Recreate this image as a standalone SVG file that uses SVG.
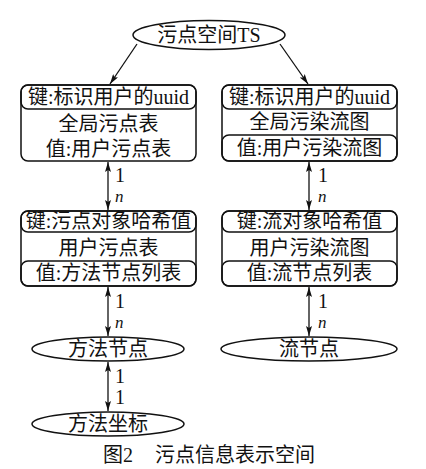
<svg xmlns="http://www.w3.org/2000/svg" width="426" height="469" viewBox="0 0 426 469">
<defs>
<marker id="ah" viewBox="0 0 10 6" refX="10" refY="3" markerWidth="10" markerHeight="6" markerUnits="userSpaceOnUse" orient="auto-start-reverse">
<path d="M0,0 L10,3 L0,6 L2,3 Z" fill="#111"/>
</marker>
<style>
.s{fill:none;stroke:#111;stroke-width:1.5}
.w{fill:#fff;stroke:#111;stroke-width:1.5}
.t{font-family:"Liberation Serif","Noto Sans CJK SC",serif;font-size:20px;fill:#111;text-anchor:middle}
.l{font-family:"Liberation Serif",serif;font-size:20px;fill:#111}
.n{font-family:"Liberation Serif",serif;font-size:17px;font-style:italic;fill:#111}
.c{stroke:#111;stroke-width:1.3;fill:none}
</style>
</defs>
<rect width="426" height="469" fill="#fff"/>
<g id="connectors">
<line class="c" x1="137" y1="44" x2="110" y2="84" marker-end="url(#ah)"/>
<line class="c" x1="280" y1="44" x2="308" y2="84" marker-end="url(#ah)"/>
<line class="c" x1="108" y1="162" x2="108" y2="210" marker-start="url(#ah)" marker-end="url(#ah)"/>
<line class="c" x1="309" y1="162" x2="309" y2="210" marker-start="url(#ah)" marker-end="url(#ah)"/>
<line class="c" x1="108" y1="287" x2="108" y2="336" marker-start="url(#ah)" marker-end="url(#ah)"/>
<line class="c" x1="309" y1="287" x2="309" y2="336" marker-start="url(#ah)" marker-end="url(#ah)"/>
<line class="c" x1="108" y1="362" x2="108" y2="411" marker-start="url(#ah)" marker-end="url(#ah)"/>
<text class="l" x="115" y="182">1</text>
<text class="n" x="115" y="202">n</text>
<text class="l" x="318" y="182">1</text>
<text class="n" x="318" y="202">n</text>
<text class="l" x="115" y="308">1</text>
<text class="n" x="115" y="328">n</text>
<text class="l" x="318" y="308">1</text>
<text class="n" x="318" y="328">n</text>
<text class="l" x="115" y="383">1</text>
<text class="l" x="115" y="404">1</text>
</g>
<g id="ts">
<ellipse class="w" cx="209" cy="35" rx="76" ry="14.5"/>
<text class="t" x="209" y="42">污点空间TS</text>
</g>
<g id="global-taint-table">
<rect class="w" x="21" y="85" width="175" height="76" rx="7"/>
<rect class="s" x="21" y="85" width="175" height="24" rx="7"/>
<text class="t" x="108.5" y="104">键:标识用户的uuid</text>
<text class="t" x="108.5" y="131">全局污点表</text>
<text class="t" x="108.5" y="156">值:用户污点表</text>
</g>
<g id="global-taint-flow">
<rect class="w" x="222" y="85" width="175" height="76" rx="7"/>
<rect class="s" x="222" y="85" width="175" height="24" rx="7"/>
<rect class="s" x="222" y="135" width="175" height="26" rx="7"/>
<text class="t" x="309.5" y="104">键:标识用户的uuid</text>
<text class="t" x="309.5" y="129">全局污染流图</text>
<text class="t" x="309.5" y="155">值:用户污染流图</text>
</g>
<g id="user-taint-table">
<rect class="w" x="21" y="211" width="175" height="75" rx="7"/>
<rect class="s" x="21" y="211" width="175" height="21" rx="7"/>
<rect class="s" x="21" y="261" width="175" height="25" rx="7"/>
<text class="t" x="108.5" y="228">键:污点对象哈希值</text>
<text class="t" x="108.5" y="255">用户污点表</text>
<text class="t" x="108.5" y="280">值:方法节点列表</text>
</g>
<g id="user-taint-flow">
<rect class="w" x="222" y="211" width="175" height="75" rx="7"/>
<rect class="s" x="222" y="211" width="175" height="21" rx="7"/>
<rect class="s" x="222" y="261" width="175" height="25" rx="7"/>
<text class="t" x="309.5" y="228">键:流对象哈希值</text>
<text class="t" x="309.5" y="255">用户污染流图</text>
<text class="t" x="309.5" y="280">值:流节点列表</text>
</g>
<g id="method-node">
<ellipse class="w" cx="108" cy="349" rx="76" ry="12"/>
<text class="t" x="108" y="356">方法节点</text>
</g>
<g id="flow-node">
<ellipse class="w" cx="309" cy="349" rx="88" ry="12"/>
<text class="t" x="309" y="356">流节点</text>
</g>
<g id="method-coord">
<ellipse class="w" cx="108" cy="424" rx="76" ry="12"/>
<text class="t" x="108" y="431">方法坐标</text>
</g>
<g id="caption">
<text class="t" x="118" y="462">图2</text>
<text class="t" x="235" y="462">污点信息表示空间</text>
</g>
</svg>
